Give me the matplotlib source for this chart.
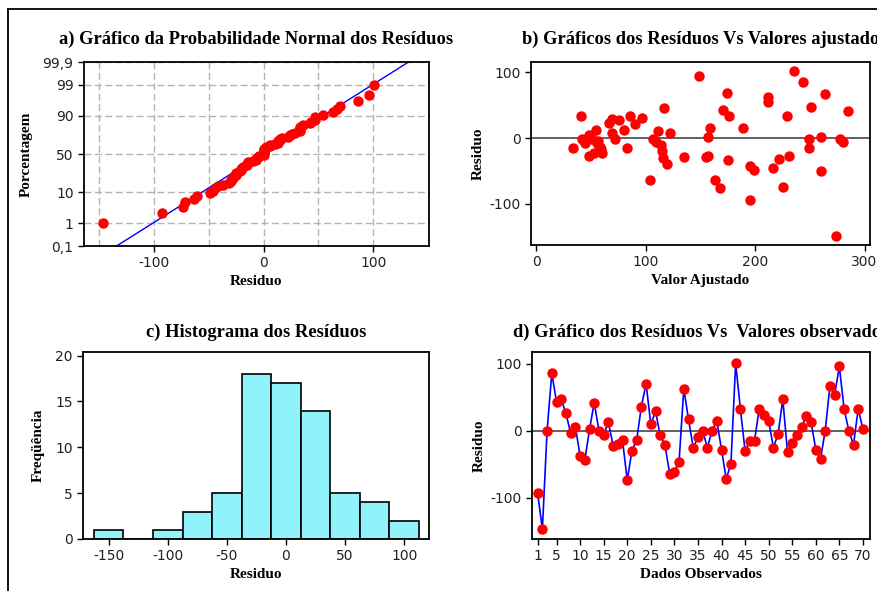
import matplotlib
matplotlib.use('Agg')
import matplotlib.pyplot as plt
from matplotlib.lines import Line2D
import numpy as np
from statistics import NormalDist

# residuos na ordem de observacao (painel d)
residuos = [-93, -147, 0, 86, 43, 47, 26, -4, 6, -37,
            -44, 2, 42, 0, -6, 13, -22, -20, -14, -74,
            -30, -14, 36, 70, 10, 29, -7, -21, -64, -61,
            -46, 63, 17, -25, -10, 0, -25, 0, 15, -28,
            -72, -49, 101, 33, -30, -15, -15, 33, 24, 15,
            -25, -5, 47, -32, -19, -7, 6, 22, 13, -28,
            -42, 0, 67, 54, 96, 33, 0, -21, 33, 2]

# residuos vs valores ajustados (painel b)
ajustado = [34, 41, 42, 45, 48, 48, 51, 53, 55, 56, 58, 59, 60, 57,
            67, 69, 69, 72, 76, 80, 83, 86, 90, 97,
            104, 107, 110, 111, 114, 115, 116, 117, 120, 122,
            135, 149, 155, 157, 157, 159, 163, 168, 171, 174, 175, 176,
            189, 195, 195, 199, 212, 212, 216, 222, 226, 229, 231,
            236, 244, 249, 249, 251, 260, 260, 264, 274, 278, 280, 285]
res_ajustado = [-15, 34, -2, -8, 5, -27, -1, -22, 13, -8, -13, -17, -22, -5,
                23, 29, 7, -1, 27, 13, -15, 34, 22, 31,
                -64, -1, -6, 11, -11, -20, -31, 46, -39, 8,
                -29, 94, -29, -27, 1, 15, -64, -76, 43, 69, -34, 33,
                15, -43, -94, -48, 62, 55, -46, -32, -74, 33, -27,
                102, 85, -1, -15, 48, 1, -50, 67, -150, -1, -6, 41]

# histograma
centros = [-150, -125, -100, -75, -50, -25, 0, 25, 50, 75, 100]
frequencia = [1, 0, 1, 3, 5, 18, 17, 14, 5, 4, 2]

pct_ticks = [0.1, 1, 10, 50, 90, 99, 99.9]
pct_labels = ['0,1', '1', '10', '50', '90', '99', '99,9']

SERIF = 'Liberation Serif'
W, H = 878, 591
nd = NormalDist()


def estilo(ax):
    for s in ax.spines.values():
        s.set_linewidth(1.3)
        s.set_color('black')
    ax.tick_params(direction='out', length=4, width=1, labelsize=10,
                   colors='black', labelcolor='#222222')
    ax.tick_params(which='minor', length=0)


def titulo(ax, txt, pad):
    ax.set_title(txt, fontsize=13.3, fontweight='bold', family=SERIF, pad=pad)


def rotulo(ax, x=None, y=None, ypad=5):
    if x:
        ax.set_xlabel(x, fontsize=11, fontweight='bold', family=SERIF, labelpad=3)
    if y:
        ax.set_ylabel(y, fontsize=11, fontweight='bold', family=SERIF, labelpad=ypad)


def caixa(l, t, r, b):
    return [l / W, 1 - b / H, (r - l) / W, (b - t) / H]


plt.rcParams['font.family'] = ['DejaVu Sans']
plt.rcParams['axes.unicode_minus'] = False
fig = plt.figure(figsize=(W / 100, H / 100), dpi=100)

# a) probabilidade normal
ax = fig.add_axes(caixa(84, 62, 429, 246))
estilo(ax)
n = len(residuos)
xs = np.sort(residuos)
zs = [nd.inv_cdf((i - 0.3) / (n + 0.4)) for i in range(1, n + 1)]
m, sd = np.mean(residuos), np.std(residuos, ddof=1)
z0, z1 = nd.inv_cdf(0.001), nd.inv_cdf(0.999)
ax.plot([m + sd * z0, m + sd * z1], [z0, z1], color='blue', lw=1, zorder=2)
ax.plot(xs, zs, 'o', color='red', ms=6.5, zorder=3)
ax.set_xlim(-164, 151)
ax.set_ylim(z0, z1)
ax.set_xticks([-100, 0, 100])
ax.set_xticks([-150, -50, 50], minor=True)
ax.set_yticks([nd.inv_cdf(p / 100) for p in pct_ticks])
ax.set_yticklabels(pct_labels)
ax.grid(True, which='both', color='#b4b4b4', lw=1, ls=(0, (5, 2.5)), zorder=0)
ax.set_axisbelow(True)
titulo(ax, 'a) Gráfico da Probabilidade Normal dos Resíduos', 13)
rotulo(ax, 'Residuo', 'Porcentagem', 7)

# b) residuos vs ajustados
ax = fig.add_axes(caixa(531, 62, 870, 245))
estilo(ax)
ax.axhline(0, color='#555555', lw=1.3, zorder=1)
ax.plot(ajustado, res_ajustado, 'o', color='red', ms=6.5, zorder=3, ls='none')
ax.set_xlim(-4.6, 305)
ax.set_ylim(-163, 116)
ax.set_xticks([0, 100, 200, 300])
ax.set_yticks([-100, 0, 100])
titulo(ax, 'b) Gráficos dos Resíduos Vs Valores ajustado', 13)
rotulo(ax, 'Valor Ajustado', 'Residuo', 3)

# c) histograma
ax = fig.add_axes(caixa(83, 352, 429, 539))
estilo(ax)
ax.bar(centros, frequencia, width=25, color='#90f3fb', edgecolor='black', lw=1.2)
ax.set_xlim(-171.7, 121)
ax.set_ylim(0, 20.4)
ax.set_xticks([-150, -100, -50, 0, 50, 100])
ax.set_yticks([0, 5, 10, 15, 20])
titulo(ax, 'c) Histograma dos Resíduos', 10.5)
rotulo(ax, 'Residuo', 'Freqüência', 7)

# d) residuos vs observados
ax = fig.add_axes(caixa(532, 352, 870, 539))
estilo(ax)
obs = np.arange(1, n + 1)
ax.axhline(0, color='#555555', lw=1.3, zorder=1)
ax.plot(obs, residuos, color='blue', lw=1.2, zorder=2)
ax.plot(obs, residuos, 'o', color='red', ms=6.5, zorder=3, ls='none')
ax.set_xlim(-0.2, 71.5)
ax.set_ylim(-161.6, 117.6)
ax.set_xticks([1] + list(range(5, 71, 5)))
ax.set_yticks([-100, 0, 100])
titulo(ax, 'd) Gráfico dos Resíduos Vs  Valores observados', 10.5)
rotulo(ax, 'Dados Observados', 'Residuo', 3)

# moldura
fig.add_artist(Line2D([8 / W, 8 / W], [0, 1 - 9 / H], color='black', lw=1.3))
fig.add_artist(Line2D([8 / W, 1], [1 - 9 / H, 1 - 9 / H], color='black', lw=1.3))

fig.savefig('out.png', dpi=100)
